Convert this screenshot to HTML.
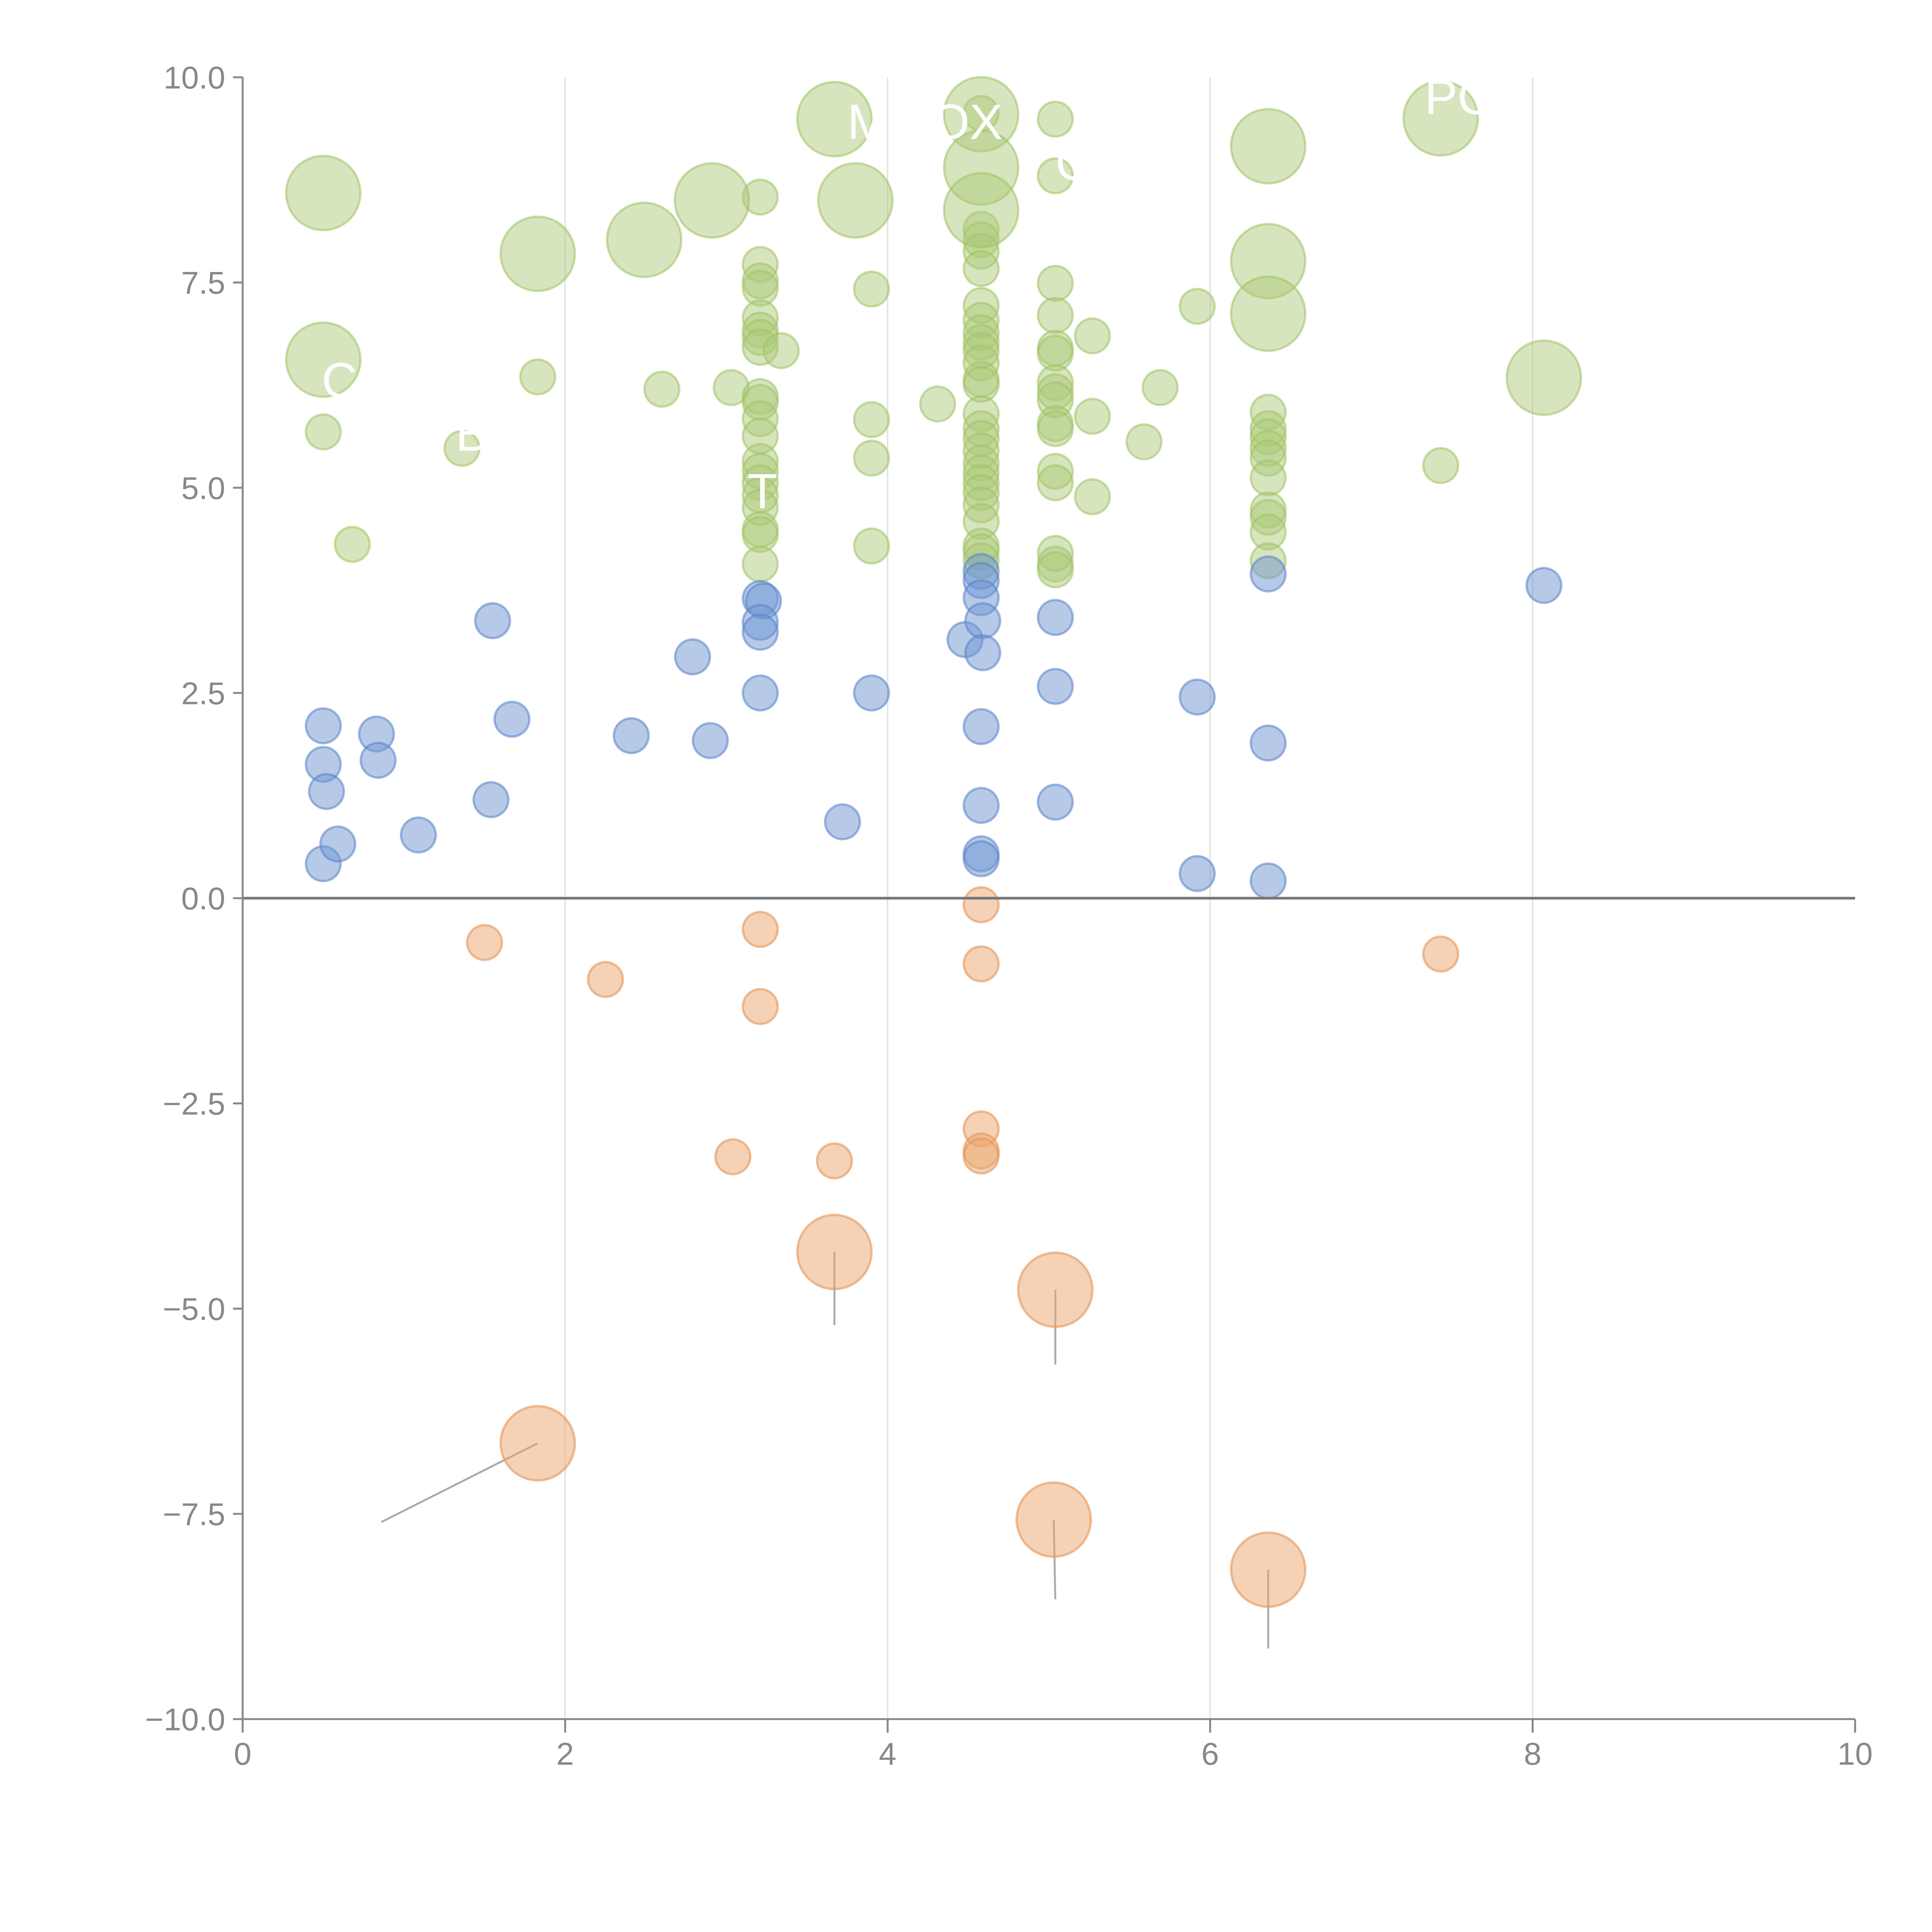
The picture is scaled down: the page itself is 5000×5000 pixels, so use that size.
<!DOCTYPE html>
<html><head><meta charset="utf-8"><style>html,body{margin:0;padding:0;background:#fff}svg{display:block}</style></head>
<body>
<svg id="chart" width="5000" height="5000" viewBox="0 0 5000 5000" xmlns="http://www.w3.org/2000/svg" font-family="'Liberation Sans', sans-serif"></svg>
<script>
const xTicks=[0,2,4,6,8,10];
const yTicks=[10,7.5,5,2.5,0,-2.5,-5,-7.5,-10];
const yTickLabels=["10.0","7.5","5.0","2.5","0.0","\u22122.5","\u22125.0","\u22127.5","\u221210.0"];
const blueX=[0.5,0.5,0.52,0.5,0.59,0.83,0.84,1.09,1.54,1.55,1.67,2.41,2.79,2.9,3.21,3.21,3.23,3.21,3.21,3.72,3.9,4.48,4.58,4.58,4.58,4.59,4.59,4.58,4.58,4.58,4.58,5.04,5.04,5.04,5.92,5.92,6.36,6.36,6.36,8.07];
const blueY=[2.1,1.63,1.3,0.42,0.66,2.0,1.68,0.77,1.2,3.38,2.18,1.98,2.94,1.92,2.5,3.65,3.62,3.36,3.24,0.93,2.5,3.15,3.98,3.87,3.66,3.38,2.99,2.09,1.13,0.54,0.48,3.42,2.58,1.17,2.45,0.3,3.95,1.89,0.21,3.81];
const orangeX=[1.5,2.25,3.21,3.21,3.04,3.67,4.58,4.58,4.58,4.58,4.58,7.43];
const orangeY=[-0.54,-0.99,-0.38,-1.32,-3.15,-3.2,-0.08,-0.8,-2.81,-3.08,-3.14,-0.68];
const orangeBigX=[3.67,5.04,1.83,5.03,6.36];
const orangeBigY=[-4.31,-4.77,-6.64,-7.57,-8.18];
const orangeLeaderX=[3.67,5.04,0.86,5.04,6.36];
const orangeLeaderY=[-5.2,-5.68,-7.6,-8.54,-9.14];
const greenX=[0.5,0.68,1.36,1.83,2.6,3.03,3.21,
3.21,3.21,3.21,3.21,3.21,3.21,3.21,3.21,3.21,3.21,3.21,3.21,3.21,3.21,3.21,3.21,3.21,3.21,3.21,
3.34,3.9,3.9,3.9,3.9,4.31,
4.58,4.58,4.58,4.58,4.58,4.58,4.58,4.58,4.58,4.58,4.58,4.58,4.58,4.58,4.58,4.58,4.58,4.58,4.58,4.58,4.58,4.58,4.58,4.58,4.58,4.58,
5.04,5.04,5.04,5.04,5.04,5.04,5.04,5.04,5.04,5.04,5.04,5.04,5.04,5.04,5.04,5.04,
5.27,5.27,5.27,5.59,5.69,5.92,
6.36,6.36,6.36,6.36,6.36,6.36,6.36,6.36,6.36,6.36,7.43];
const greenY=[5.68,4.31,5.48,6.35,6.2,6.22,8.54,
7.72,7.52,7.43,7.07,6.92,6.83,6.71,6.11,6.04,5.84,5.63,5.32,5.2,5.06,4.91,4.76,4.49,4.43,4.07,
6.67,7.42,5.83,5.36,4.29,6.02,
9.56,8.15,8.02,7.88,7.67,7.22,7.04,6.89,6.77,6.67,6.52,6.32,6.26,5.9,5.72,5.6,5.45,5.3,5.18,5.06,4.94,4.79,4.59,4.29,4.22,4.11,
9.49,8.8,7.49,7.1,6.7,6.64,6.28,6.17,6.07,5.78,5.72,5.2,5.06,4.2,4.07,4.0,
6.85,5.87,4.89,5.56,6.22,7.21,
5.92,5.72,5.62,5.48,5.36,5.12,4.73,4.64,4.46,4.11,5.27];
const greenBigX=[0.5,0.5,1.83,2.49,2.91,3.67,3.8,4.58,4.58,4.58,6.36,6.36,6.36,7.43,8.07];
const greenBigY=[8.59,6.56,7.85,8.02,8.5,9.49,8.5,9.55,8.9,8.38,9.16,7.76,7.12,9.5,6.34];
const labelText=["M","OX","PO","T","B","C","G"];
const labelX=[3.75,4.27,7.33,3.13,1.32,0.49,5.04];
const labelY=[9.25,9.25,9.55,4.75,5.45,6.1,8.75];

const X0=628,X1=4801,Y0=4449,Y1=200;
const sx=v=>X0+(v-0)/10*(X1-X0);
const sy=v=>Y0-(v+10)/20*(Y0-Y1);
const svg=document.getElementById('chart');
const NS='http://www.w3.org/2000/svg';
function mk(tag,attrs,parent){const e=document.createElementNS(NS,tag);for(const k in attrs)e.setAttribute(k,attrs[k]);(parent||svg).appendChild(e);return e;}

// grid
xTicks.forEach(t=>{if(t>0&&t<10){const g=mk('line',{x1:sx(t),x2:sx(t),y1:Y1,y2:Y0,stroke:'#dddddd','stroke-width':3});

}});

function bubbles(xs,ys,r,fill,stroke,name){
  xs.forEach((x,i)=>{const c=mk('circle',{cx:sx(x),cy:sy(ys[i]),r:r,fill:fill,stroke:stroke,'stroke-width':6});
  
  });
}
// leader lines
orangeBigX.forEach((x,i)=>{const l=mk('line',{x1:sx(x),y1:sy(orangeBigY[i]),x2:sx(orangeLeaderX[i]),y2:sy(orangeLeaderY[i]),stroke:'#aaaaaa','stroke-width':5});

});

bubbles(greenX,greenY,45,'rgba(172,200,120,0.48)','rgba(160,195,100,0.55)','green-bubble');
bubbles(greenBigX,greenBigY,96,'rgba(172,200,120,0.48)','rgba(160,195,100,0.55)','green-large-bubble');
bubbles(blueX,blueY,45,'rgba(110,150,210,0.5)','rgba(90,130,200,0.55)','blue-bubble');
bubbles(orangeX,orangeY,45,'rgba(235,165,110,0.5)','rgba(228,150,90,0.6)','orange-bubble');
bubbles(orangeBigX,orangeBigY,96,'rgba(235,165,110,0.5)','rgba(228,150,90,0.6)','orange-large-bubble');

labelText.forEach((t,i)=>{const e=mk('text',{x:sx(labelX[i]),y:sy(labelY[i]),fill:'#ffffff','font-size':128});e.textContent=t;

});

// zero line
const z=mk('line',{x1:X0,x2:X1,y1:sy(0),y2:sy(0),stroke:'#777777','stroke-width':7});


// axes
const ya=mk('line',{x1:X0,x2:X0,y1:Y1,y2:Y0,stroke:'#888888','stroke-width':5});


const xa=mk('line',{x1:X0,x2:X1,y1:Y0,y2:Y0,stroke:'#888888','stroke-width':5});


yTicks.forEach((t,i)=>{const y=sy(t);
  const tk=mk('line',{x1:X0-25,x2:X0,y1:y,y2:y,stroke:'#888888','stroke-width':5});
  
  
  const tx=mk('text',{x:X0-45,y:y+29,'text-anchor':'end',fill:'#888888','font-size':82});tx.textContent=yTickLabels[i];
  
  });
xTicks.forEach(t=>{const x=sx(t);
  const tk=mk('line',{x1:x,x2:x,y1:Y0,y2:Y0+35,stroke:'#888888','stroke-width':5});
  
  
  const tx=mk('text',{x:x,y:Y0+118,'text-anchor':'middle',fill:'#888888','font-size':82});tx.textContent=String(t);
  
  });
</script>
</body></html>
